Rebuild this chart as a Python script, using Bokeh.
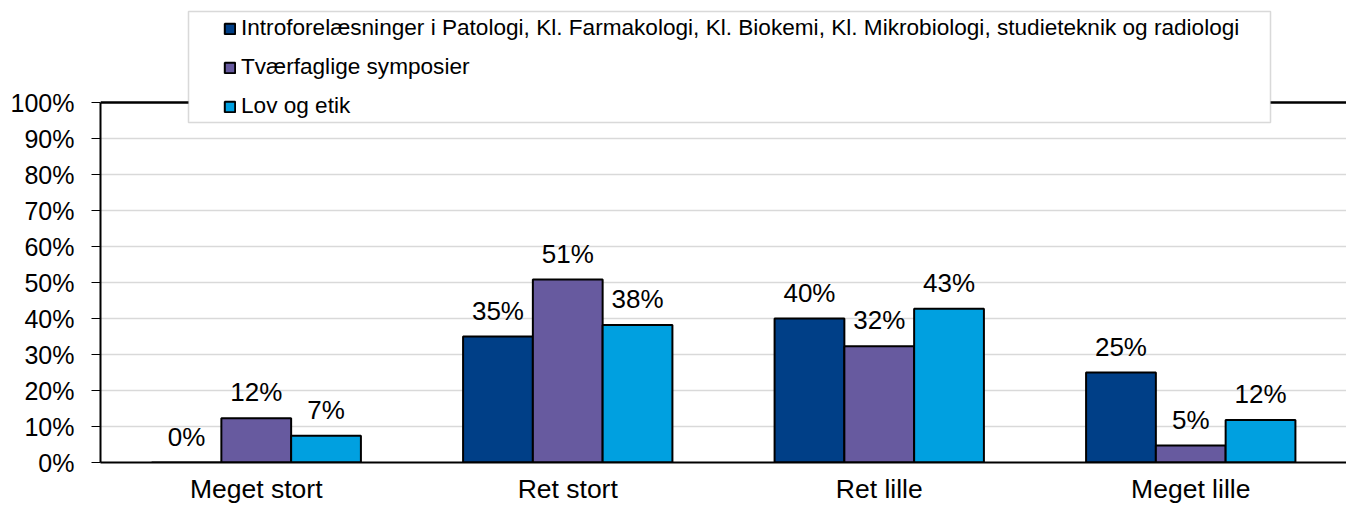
from bokeh.plotting import figure
from bokeh.models import (ColumnDataSource, FactorRange, Range1d, FixedTicker,
                          PrintfTickFormatter, Span, BoxAnnotation, Legend, LegendItem)
from bokeh.transform import dodge
from bokeh.embed import file_html
from bokeh.resources import INLINE
from bokeh.core.properties import value

categories = ["Meget stort", "Ret stort", "Ret lille", "Meget lille"]
series_names = [
    "Introforelæsninger i Patologi, Kl. Farmakologi, Kl. Biokemi, Kl. Mikrobiologi, studieteknik og radiologi",
    "Tværfaglige symposier",
    "Lov og etik",
]
intro = [0.0, 35.0, 40.0, 25.0]
tvaer = [12.3, 50.8, 32.3, 4.7]
lov = [7.4, 38.2, 42.7, 11.8]
y_ticks = [0, 10, 20, 30, 40, 50, 60, 70, 80, 90, 100]

colors = ["#003F87", "#675A9F", "#00A0E0"]
offsets = [-0.224, 0.0, 0.224]
BAR_W = 0.224
FONT = "Liberation Sans"

# frame spans the full height above the x axis; 100% sits 102px below the top
FRAME_H = 462
Y_END = 100 * FRAME_H / 360

p = figure(x_range=FactorRange(factors=categories, range_padding=0),
           y_range=Range1d(0, Y_END),
           width=1346, height=506, output_backend="svg", toolbar_location=None,
           min_border_left=100, min_border_right=0, min_border_top=0, min_border_bottom=44)
p.outline_line_color = None
p.background_fill_color = "white"
p.border_fill_color = "white"

renderers = []
for vals, c, dx in zip([intro, tvaer, lov], colors, offsets):
    src = ColumnDataSource(dict(x=categories, y=vals, label=[f"{round(v)}%" for v in vals]))
    r = p.vbar(x=dodge("x", dx, range=p.x_range), top="y", width=BAR_W, source=src,
               fill_color=c, line_color="black", line_width=2)
    renderers.append(r)
    p.text(x=dodge("x", dx, range=p.x_range), y="y", text="label", source=src,
           text_align="center", text_baseline="alphabetic", y_offset=-26,
           text_font=value(FONT), text_font_size="26px", text_color="black")

# grid
p.xgrid.grid_line_color = None
p.ygrid.ticker = FixedTicker(ticks=y_ticks)
p.ygrid.grid_line_color = "#D9D9D9"
p.ygrid.grid_line_width = 1.5

# axes
p.yaxis.ticker = FixedTicker(ticks=y_ticks)
p.yaxis.bounds = (0, 100)
p.yaxis.formatter = PrintfTickFormatter(format="%d%%")
p.yaxis.major_label_text_font = FONT
p.yaxis.major_label_text_font_size = "25px"
p.yaxis.major_label_text_color = "black"
p.yaxis.axis_line_color = "black"
p.yaxis.axis_line_width = 2
p.yaxis.major_tick_out = 9
p.yaxis.major_tick_in = 0
p.yaxis.major_tick_line_color = "black"
p.yaxis.minor_tick_line_color = None
p.yaxis.major_label_standoff = 17

p.xaxis.major_label_text_font = FONT
p.xaxis.major_label_text_font_size = "26.5px"
p.xaxis.major_label_text_color = "black"
p.xaxis.axis_line_color = "black"
p.xaxis.axis_line_width = 2
p.xaxis.major_tick_line_color = None
p.xaxis.major_tick_out = 0
p.xaxis.major_tick_in = 0
p.xaxis.minor_tick_line_color = None
p.xaxis.major_label_standoff = 11

# top border line at 100%
p.add_layout(Span(location=100, dimension="width", line_color="black", line_width=2.5))

# legend box
p.add_layout(BoxAnnotation(left=188, right=1270, top=11, bottom=122,
                           left_units="canvas", right_units="canvas",
                           top_units="canvas", bottom_units="canvas",
                           fill_color="white", fill_alpha=1.0,
                           line_color="#808080", line_width=1.5))

legend = Legend(items=[LegendItem(label=n, renderers=[r]) for n, r in zip(series_names, renderers)],
                location=(123, 343), padding=0, spacing=13, margin=0,
                glyph_width=13, glyph_height=13, label_standoff=5, label_height=20,
                label_text_font=FONT, label_text_font_size="22.6px", label_text_color="black",
                border_line_alpha=0, background_fill_alpha=0)
p.add_layout(legend, "center")

open("out.html", "w").write(file_html(p, INLINE))
